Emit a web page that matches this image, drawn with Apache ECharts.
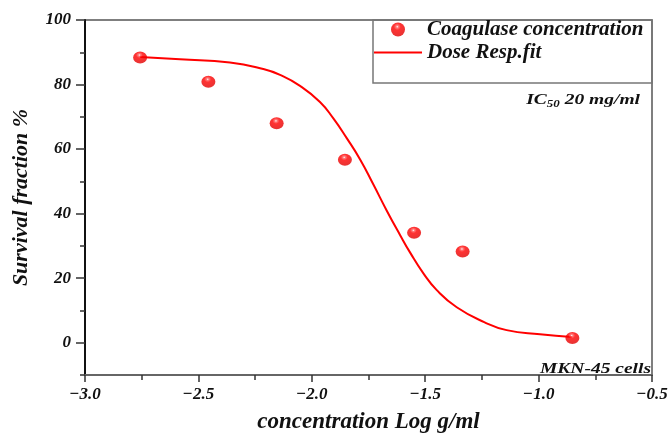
<!DOCTYPE html>
<html>
<head>
<meta charset="utf-8">
<script src="https://cdn.jsdelivr.net/npm/echarts@6/dist/echarts.min.js"></script>
<style>
  html, body { margin: 0; padding: 0; background: #fff; }
  #main { width: 671px; height: 439px; }
</style>
</head>
<body>
<div id="main"></div>
<script>
// measured points (log concentration, survival %)
const logConc = [-2.757, -2.456, -2.155, -1.854, -1.549, -1.335, -0.851]
const survival = [88.4, 80.9, 68.0, 56.7, 34.1, 28.3, 1.5]

// dose response fit curve
const fitX = [-2.757, -2.581, -2.361, -2.214, -2.140, -2.052, -1.964, -1.905, -1.846, -1.787, -1.729, -1.670, -1.611, -1.567, -1.508, -1.449, -1.361, -1.240, -1.141, -0.994, -0.854]
const fitY = [88.5, 87.8, 86.8, 84.8, 83.0, 79.6, 74.6, 69.5, 63.4, 56.8, 49.1, 41.0, 33.4, 28.0, 21.5, 16.3, 11.0, 6.4, 3.9, 2.6, 1.8]

const yTicks = [0, 20, 40, 60, 80, 100]
const yMinorTicks = [-10, 10, 30, 50, 70, 90]

const FONT = '"Liberation Serif", "Times New Roman", serif'
const txt = (size) => ({ fontFamily: FONT, fontSize: size, fontWeight: 'bold', fontStyle: 'italic', color: '#111' })

const chart = echarts.init(document.getElementById('main'))

// shiny red ball
const ball = {
  type: 'radial', x: 0.45, y: 0.3, r: 0.7,
  colorStops: [
    { offset: 0, color: '#ffffff' },
    { offset: 0.12, color: '#ff6060' },
    { offset: 0.35, color: '#ff0000' },
    { offset: 1, color: '#e00000' }
  ]
}

chart.setOption({
  animation: false,
  backgroundColor: '#fff',
  grid: {
    left: 85, top: 20, right: 19, bottom: 58,
    show: true, borderColor: '#555', borderWidth: 1.5
  },
  legend: {
    orient: 'vertical',
    left: 373, top: 19,
    padding: 0,
    itemWidth: 48, itemHeight: 14, itemGap: 2,
    textStyle: txt(21),
    data: [
      'Coagulase concentration',
      { name: 'Dose Resp.fit', itemStyle: { opacity: 0 } }
    ]
  },
  xAxis: {
    type: 'value',
    min: -3, max: -0.5, interval: 0.5,
    name: 'concentration Log g/ml',
    nameLocation: 'middle', nameGap: 36,
    nameTextStyle: txt(23),
    axisLine: { onZero: false, lineStyle: { color: '#666', width: 2 } },
    axisTick: { length: 7, lineStyle: { color: '#333', width: 1.5 } },
    minorTick: { show: true, splitNumber: 2, length: 5, lineStyle: { color: '#333', width: 1.5 } },
    axisLabel: Object.assign({
      margin: 11,
      formatter: v => v.toFixed(1).replace('-', '\u2212')
    }, txt(17)),
    splitLine: { show: false }
  },
  yAxis: [{
    type: 'value',
    min: -10, max: 100,
    name: 'Survival fraction %',
    nameLocation: 'middle', nameGap: 53,
    nameTextStyle: txt(22),
    axisLine: { onZero: false, lineStyle: { color: '#111', width: 2 } },
    axisTick: { length: 9, customValues: yTicks, lineStyle: { color: '#333', width: 1.5 } },
    axisLabel: Object.assign({ margin: 14, customValues: yTicks }, txt(17)),
    splitLine: { show: false }
  }, {
    type: 'value',
    min: -10, max: 100,
    position: 'left',
    axisLine: { show: false },
    axisTick: { length: 5, customValues: yMinorTicks, lineStyle: { color: '#333', width: 1.5 } },
    axisLabel: { show: false },
    splitLine: { show: false }
  }],
  graphic: [
    {
      type: 'rect', silent: true, z: 0,
      shape: { x: 373, y: 20, width: 279, height: 63 },
      style: { fill: 'none', stroke: '#777', lineWidth: 1.5 }
    },
    {
      type: 'text', x: 640, y: 91, scaleX: 1.3,
      style: {
        text: '{a|IC}{s|50}{a| 20 mg/ml}',
        align: 'right',
        rich: {
          a: { fontFamily: FONT, fontSize: 15, fontWeight: 'bold', fontStyle: 'italic', fill: '#111' },
          s: { fontFamily: FONT, fontSize: 10, fontWeight: 'bold', fontStyle: 'italic', fill: '#111', padding: [8, 0, 0, 0] }
        }
      }
    },
    {
      type: 'text', x: 651, y: 362, scaleX: 1.3,
      style: {
        text: 'MKN-45 cells', align: 'right',
        fontFamily: FONT, fontSize: 15, fontWeight: 'bold', fontStyle: 'italic', fill: '#111'
      }
    }
  ],
  series: [
    {
      name: 'Coagulase concentration',
      type: 'scatter',
      symbol: 'circle',
      symbolSize: [14, 12],
      itemStyle: { color: ball },
      data: logConc.map((x, i) => [x, survival[i]]),
      z: 3
    },
    {
      name: 'Dose Resp.fit',
      type: 'line',
      smooth: 0.5,
      showSymbol: false,
      symbol: 'none',
      lineStyle: { color: '#ff0000', width: 2 },
      itemStyle: { color: '#ff0000' },
      data: fitX.map((x, i) => [x, fitY[i]]),
      z: 2
    }
  ]
})
</script>
</body>
</html>
